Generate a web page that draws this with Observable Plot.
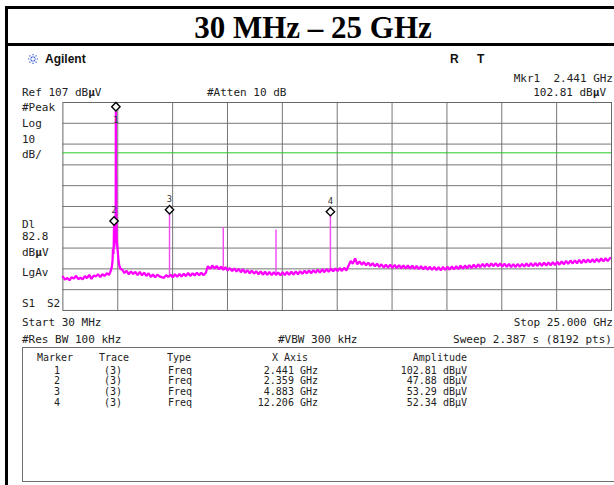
<!DOCTYPE html>
<html>
<head>
<meta charset="utf-8">
<script src="https://cdn.jsdelivr.net/npm/d3@7"></script>
<script src="https://cdn.jsdelivr.net/npm/@observablehq/plot@0.6"></script>
<style>
html,body{margin:0;padding:0;background:#fff;overflow:hidden}
#page{position:relative;width:614px;height:485px;overflow:hidden;background:#fff}
.t{position:absolute;font-family:"DejaVu Sans Mono",monospace;font-size:11px;line-height:12px;color:#222;white-space:pre}
.s{font-size:10px;line-height:11px}
.bar{position:absolute;background:#000}
#title{position:absolute;left:0;width:626px;top:12px;text-align:center;font-family:"Liberation Serif","Times New Roman",serif;font-weight:bold;font-size:31px;line-height:31px;color:#000;white-space:pre}
#brand{position:absolute;left:45px;top:52px;font-family:"Liberation Sans",Arial,sans-serif;font-weight:bold;font-size:12px;line-height:14px;color:#111}
.rt{position:absolute;top:52px;font-family:"Liberation Sans",Arial,sans-serif;font-weight:bold;font-size:12px;line-height:14px;color:#111}
#box{position:absolute;left:22px;top:347px;width:620px;height:135px;border:1.5px solid #707070;box-sizing:border-box}
</style>
</head>
<body>
<div id="page"></div>
<script>
// ---- instrument settings ----
const refLevel = 107;            // dBµV (top of screen)
const bottomLevel = 7;           // 10 dB/div x 10 div
const displayLine = 82.8;        // DL
const startGHz = 0.03, stopGHz = 25.0;
const gridLevels = [97, 87, 77, 67, 57, 47, 37, 27, 17];
const gridFreqs = [2.527, 5.024, 7.521, 10.018, 12.515, 15.012, 17.509, 20.006, 22.503];

// ---- trace: noise floor sampled every 0.1 GHz from 0.03 GHz (null = carrier region) ----
const noiseStartGHz = 0.03, noiseStepGHz = 0.1;
const noiseLevels = [
  23.2, 21.8, 22.6, 21.5, 23.0, 22.3, 23.7, 22.0, 22.8, 21.9,
  23.5, 22.6, 24.1, 22.2, 23.8, 23.4, 24.4, 23.0, 24.4, 23.6,
  24.9, 24.1, null, null, null, null, null, 26.6, 25.0, 26.1,
  24.4, 25.8, 24.5, 25.6, 24.0, 25.5, 23.9, 25.2, 23.6, 24.9,
  23.1, 24.3, 22.9, 24.2, 23.4, 23.0, 22.7, 24.0, 23.1, 24.2,
  22.9, 24.4, 23.2, 24.5, 23.3, 24.7, 23.5, 25.0, 23.6, 24.9,
  23.8, 25.2, 23.9, 25.1, 24.0, 25.0, 28.3, 27.0, 28.6, 27.2,
  28.4, 26.8, 28.0, 26.6, 27.8, 26.2, 27.4, 25.9, 27.2, 25.7,
  27.0, 25.4, 26.8, 25.1, 26.4, 24.9, 26.2, 24.7, 25.9, 24.4,
  25.8, 24.2, 25.6, 24.1, 25.5, 24.0, 25.4, 24.1, 25.3, 23.9,
  25.4, 24.0, 25.5, 24.1, 25.6, 24.3, 25.8, 24.4, 25.9, 24.6,
  26.1, 24.8, 26.3, 24.9, 26.4, 25.1, 26.6, 25.2, 26.8, 25.4,
  26.9, 25.6, 27.1, 25.8, 27.2, 25.9, 27.4, 26.0, 27.5, 26.2,
  28.5, 30.8, 29.5, 32.0, 29.2, 30.6, 29.0, 30.3, 28.7, 30.0,
  28.5, 29.7, 28.2, 29.5, 27.9, 29.2, 27.7, 29.0, 27.6, 29.0,
  27.5, 28.9, 27.4, 28.8, 27.3, 28.7, 27.2, 28.6, 27.2, 28.5,
  27.0, 28.4, 26.9, 28.3, 26.8, 28.2, 26.6, 28.0, 26.5, 27.9,
  26.4, 27.8, 26.3, 27.9, 26.5, 28.0, 26.6, 28.1, 26.8, 28.3,
  26.9, 28.5, 27.1, 28.6, 27.3, 28.8, 27.4, 29.0, 27.6, 29.2,
  27.8, 29.4, 28.0, 29.5, 28.1, 29.6, 28.3, 29.8, 28.2, 29.6,
  28.1, 29.5, 28.0, 29.4, 27.9, 29.3, 27.9, 29.3, 28.0, 29.4,
  28.1, 29.6, 28.2, 29.7, 28.3, 29.8, 28.4, 29.9, 28.5, 30.0,
  28.6, 30.1, 28.7, 30.2, 28.8, 30.4, 29.0, 30.6, 29.2, 30.8,
  29.4, 31.0, 29.6, 31.1, 29.7, 31.3, 29.8, 31.4, 30.0, 31.5,
  30.1, 31.6, 30.2, 31.8, 30.4, 32.0, 30.6, 32.1, 30.7, 32.2
];
// carrier at 2.441 GHz: [GHz, dBµV]
const carrierShape = [
  [2.18, 25.2], [2.22, 26.5], [2.26, 28.0], [2.29, 31.0], [2.31, 36.5], [2.33, 34.0],
  [2.345, 39.0], [2.359, 47.88], [2.37, 37.5], [2.39, 40.5], [2.41, 42.0], [2.425, 44.5],
  [2.435, 58.0], [2.441, 102.81], [2.447, 60.0], [2.455, 71.0], [2.465, 50.0], [2.48, 41.0],
  [2.50, 38.5], [2.53, 35.0], [2.56, 31.0], [2.60, 28.5], [2.65, 27.0]
];
// spurious lines: [GHz, peak dBµV, floor dBµV]
const spurs = [
  [4.883, 53.29, 23.5], [7.33, 46.9, 27.0], [9.73, 45.7, 24.6], [12.206, 52.34, 26.3]
];

// ---- markers ----
const markerIds = [1, 2, 3, 4];
const markerTraces = ["(3)", "(3)", "(3)", "(3)"];
const markerTypes = ["Freq", "Freq", "Freq", "Freq"];
const markerFreqGHz = [2.441, 2.359, 4.883, 12.206];
const markerFreqText = ["2.441 GHz", "2.359 GHz", "4.883 GHz", "12.206 GHz"];
const markerAmp = [102.81, 47.88, 53.29, 52.34];

// ---- build trace ----
const trace = [];
noiseLevels.forEach((v, i) => { if (v != null) trace.push({f: +(noiseStartGHz + i * noiseStepGHz).toFixed(3), db: v}); });
carrierShape.forEach(([f, db]) => trace.push({f, db}));
trace.sort((a, b) => a.f - b.f);
const spurData = spurs.map(([f, pk, fl]) => ({f, pk, fl}));

const markers = markerIds.map((id, i) => ({id, f: markerFreqGHz[i], db: markerAmp[i]}));

const page = document.getElementById("page");

const svg = Plot.plot({
  width: 620, height: 485,
  marginTop: 103, marginBottom: 172, marginLeft: 63, marginRight: 3,
  x: {domain: [startGHz, stopGHz], axis: null},
  y: {domain: [bottomLevel, refLevel], axis: null},
  style: {background: "transparent", overflow: "visible"},
  marks: [
    Plot.ruleY(gridLevels, {stroke: "#747474", strokeWidth: 1}),
    Plot.ruleX(gridFreqs, {stroke: "#747474", strokeWidth: 1}),
    Plot.frame({stroke: "#666", strokeWidth: 1}),
    Plot.ruleY([displayLine], {stroke: "#22cc22", strokeWidth: 1}),
    Plot.ruleX(spurData, {x: "f", y1: "fl", y2: "pk", stroke: "#f050f0", strokeWidth: 1.5}),
    Plot.line(trace, {x: "f", y: "db", stroke: "#ff00ff", strokeWidth: 2.3, strokeLinejoin: "bevel"}),
    Plot.dot(markers, {x: "f", y: "db", symbol: "diamond2", r: 3.8, fill: "white", stroke: "#000", strokeWidth: 1.4, dy: -4.5}),
    Plot.text(markers.filter(d => d.id === 1), {x: "f", y: "db", text: "id", dy: 9, fontSize: 9, fontFamily: "DejaVu Sans Mono", fill: "#333"}),
    Plot.text(markers.filter(d => d.id !== 1), {x: "f", y: "db", text: "id", dy: -15.5, fontSize: 9, fontFamily: "DejaVu Sans Mono", fill: "#333"})
  ]
});
svg.style.position = "absolute";
svg.style.left = "0px";
svg.style.top = "0px";
page.appendChild(svg);

// ---- frame bars ----
function bar(l, t, w, h) { const d = document.createElement("div"); d.className = "bar"; Object.assign(d.style, {left: l + "px", top: t + "px", width: w + "px", height: h + "px"}); page.appendChild(d); }
bar(5, 6, 620, 3);
bar(5, 6, 3, 480);
bar(5, 43, 620, 3);

const title = document.createElement("div"); title.id = "title"; title.textContent = "30 MHz – 25 GHz"; page.appendChild(title);

// Agilent logo (decoration)
const logo = document.createElementNS("http://www.w3.org/2000/svg", "svg");
logo.setAttribute("width", "12"); logo.setAttribute("height", "12");
Object.assign(logo.style, {position: "absolute", left: "27px", top: "53px"});
for (let k = 0; k < 8; k++) {
  const a = k * Math.PI / 4, ln = document.createElementNS("http://www.w3.org/2000/svg", "line");
  ln.setAttribute("x1", 6 + 1.5 * Math.cos(a)); ln.setAttribute("y1", 6 + 1.5 * Math.sin(a));
  ln.setAttribute("x2", 6 + 5.5 * Math.cos(a)); ln.setAttribute("y2", 6 + 5.5 * Math.sin(a));
  ln.setAttribute("stroke", "#3a5fd0"); ln.setAttribute("stroke-width", "1.2"); ln.setAttribute("stroke-dasharray", "1.3 0.9");
  logo.appendChild(ln);
}
page.appendChild(logo);
const brand = document.createElement("div"); brand.id = "brand"; brand.textContent = "Agilent"; page.appendChild(brand);
[["R", 450], ["T", 477]].forEach(([s, x]) => { const d = document.createElement("div"); d.className = "rt"; d.style.left = x + "px"; d.textContent = s; page.appendChild(d); });

function label(html, cy, opts = {}) {
  const d = document.createElement("div");
  d.className = "t" + (opts.small ? " s" : "");
  d.innerHTML = html;
  const off = opts.small ? 5.3 : 6;
  d.style.top = (cy - off) + "px";
  if (opts.right != null) d.style.right = (614 - opts.right) + "px"; else d.style.left = opts.left + "px";
  page.appendChild(d);
}
const mu = "dB<b>µ</b>V";
label("Mkr1  2.441 GHz", 79, {right: 613});
label("Ref 107 " + mu, 93, {left: 22});
label("#Atten 10 dB", 93, {left: 207});
label("102.81 " + mu, 93, {right: 606});
label("#Peak", 108, {left: 22});
label("Log", 123.5, {left: 22});
label("10", 140, {left: 22});
label("dB/", 155, {left: 22});
label("Dl", 225, {left: 22});
label("82.8", 237, {left: 22});
label(mu, 253, {left: 22});
label("LgAv", 272.5, {left: 22});
label("S1", 304, {left: 22});
label("S2", 304, {left: 47});
label("Start 30 MHz", 323, {left: 22});
label("Stop 25.000 GHz", 323, {right: 613});
label("#Res BW 100 kHz", 340, {left: 22});
label("#VBW 300 kHz", 340, {left: 278});
label("Sweep 2.387 s (8192 pts)", 340, {right: 612});

const box = document.createElement("div"); box.id = "box"; page.appendChild(box);
const hy = 357;
label("Marker", hy, {left: 37, small: true});
label("Trace", hy, {left: 99, small: true});
label("Type", hy, {left: 167, small: true});
label("X Axis", hy, {left: 272, small: true});
label("Amplitude", hy, {right: 467, small: true});
const rowY = [370, 380.7, 391.4, 402.1];
markerIds.forEach((id, i) => {
  label(String(id), rowY[i], {left: 54, small: true});
  label(markerTraces[i], rowY[i], {left: 104, small: true});
  label(markerTypes[i], rowY[i], {left: 168, small: true});
  label(markerFreqText[i], rowY[i], {right: 318, small: true});
  label(markerAmp[i].toFixed(2) + " dBµV", rowY[i], {right: 467, small: true});
});
</script>
</body>
</html>
